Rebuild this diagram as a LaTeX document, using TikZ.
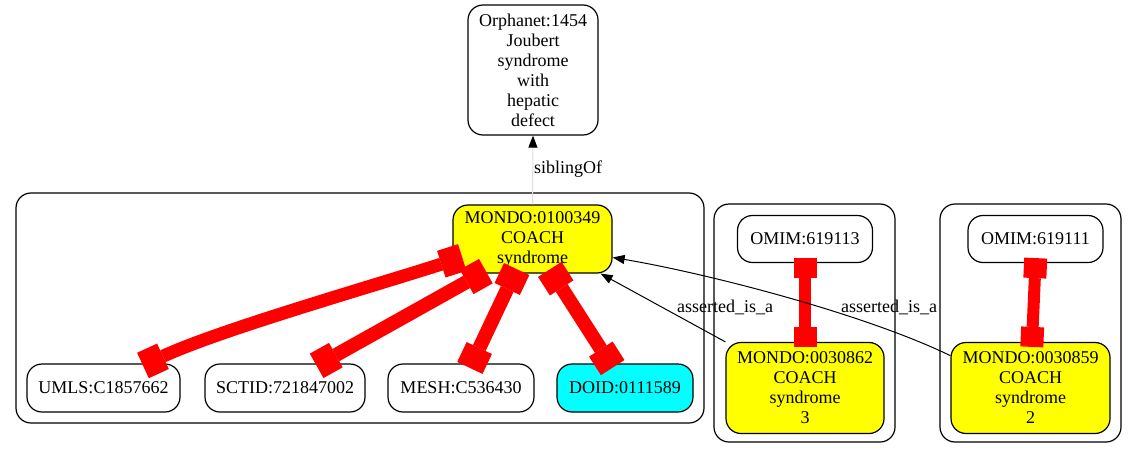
\documentclass[tikz,border=0pt]{standalone}
\usepackage{fontspec}
\setmainfont{Liberation Serif}
\usetikzlibrary{arrows.meta}
\definecolor{gvyellow}{HTML}{FFFF00}
\definecolor{gvcyan}{HTML}{00FFFF}
\definecolor{gvred}{HTML}{FF0000}
\tikzset{gvbox/.tip={Square[length=22pt, width=28pt, line width=0pt]},
  gvsmallbox/.tip={Square[length=20pt, width=23pt, line width=0pt]}}
\begin{document}
\begin{tikzpicture}[x=1pt, y=-1pt,
    every node/.style={font=\fontsize{18}{20}\selectfont},
    term/.style={draw, line width=1.2pt, rounded corners=15pt, align=center, inner sep=0pt},
    grp/.style={draw, line width=1.2pt, rounded corners=15pt},
    xref/.style={gvred, line width=14pt, gvbox-gvbox, shorten <=-5pt, shorten >=-5pt},
    thinxref/.style={gvred, line width=12pt, gvsmallbox-gvsmallbox, shorten <=-5pt, shorten >=-5pt},
    isa/.style={black, line width=1pt, -{Triangle[length=12pt, width=9pt]}},
    sib/.style={gray!25, line width=1pt, -{Triangle[length=12pt, width=9pt, black]}}]
    \useasboundingbox (0,0) rectangle (1137,460);
    \fill[white] (0,0) rectangle (1137,460);

    % Draw clusters
    \draw[grp] (16,193) rectangle (704,423);
    \draw[grp] (714,204) rectangle (895,442);
    \draw[grp] (940,204) rectangle (1121,442);

    % Draw terms
    \node[term, minimum width=130pt, minimum height=130pt] (orpha) at (533,70) {Orphanet:1454\\Joubert\\syndrome\\with\\hepatic\\defect};
    \node[term, fill=gvyellow, minimum width=159pt, minimum height=68pt] (mondo) at (532.5,239) {MONDO:0100349\\COACH\\syndrome};
    \node[term, minimum width=153pt, minimum height=48pt] (umls) at (103.5,388) {UMLS:C1857662};
    \node[term, minimum width=160pt, minimum height=48pt] (sctid) at (285,388) {SCTID:721847002};
    \node[term, minimum width=146pt, minimum height=48pt] (mesh) at (461,388) {MESH:C536430};
    \node[term, fill=gvcyan, minimum width=136pt, minimum height=48pt] (doid) at (625,388) {DOID:0111589};
    \node[term, minimum width=135pt, minimum height=47pt] (omimA) at (805,239) {OMIM:619113};
    \node[term, fill=gvyellow, minimum width=158pt, minimum height=91pt] (coachB) at (805,388) {MONDO:0030862\\COACH\\syndrome\\3};
    \node[term, minimum width=135pt, minimum height=47pt] (omimB) at (1035.5,239) {OMIM:619111};
    \node[term, fill=gvyellow, minimum width=159pt, minimum height=91pt] (coachC) at (1030.5,388) {MONDO:0030859\\COACH\\syndrome\\2};

    % Draw siblingOf edge
    \draw[sib] (mondo.north) -- (orpha.south);
    \node (sibtxt) at (568,169) {siblingOf};

    % Draw cross references
    \draw[xref, line width=13pt] ([shift={(-75,20)}]mondo.center) .. controls (360,290) and (220,330) .. ([xshift=44pt]umls.north);
    \draw[xref] ([xshift=-51pt]mondo.south) -- ([xshift=36pt]sctid.north);
    \draw[xref] ([xshift=-18pt]mondo.south) -- ([xshift=11pt]mesh.north);
    \draw[xref] ([xshift=20pt]mondo.south) -- ([xshift=-15pt]doid.north);
    \draw[thinxref] (omimA.south) -- (coachB.north);
    \draw[thinxref] (omimB.south) -- ([xshift=1.5pt]coachC.north);

    % Draw asserted_is_a edges
    \draw[isa] (coachB.north west) -- ([xshift=-12pt]mondo.south east);
    \node (isaB) at (725,307) {asserted\_is\_a};
    \draw[isa] (coachC.158) .. controls (860,312) and (700,272) .. (mondo.-13);
    \node (isaC) at (889,307) {asserted\_is\_a};
\end{tikzpicture}
\end{document}
